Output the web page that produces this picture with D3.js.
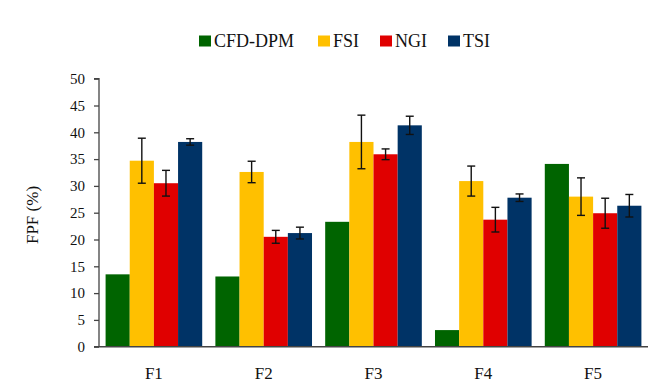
<!DOCTYPE html>
<html>
<head>
<meta charset="utf-8">
<script src="https://cdn.jsdelivr.net/npm/d3@7"></script>
<style>
  body { margin: 0; background: #fff; }
  text { font-family: "Liberation Serif", "DejaVu Serif", serif; fill: #111; }
</style>
</head>
<body>
<svg id="chart" width="654" height="390"></svg>
<script>
// formulations and series
var categories = ['F1', 'F2', 'F3', 'F4', 'F5'];
var seriesNames = ['CFD-DPM', 'FSI', 'NGI', 'TSI'];
var seriesColors = ['#006400', '#ffc000', '#e00000', '#003366'];

// FPF values (%)
var cfdValues = [13.5, 13.1, 23.3, 3.1, 34.1];
var fsiValues = [34.7, 32.6, 38.2, 30.9, 28.0];
var ngiValues = [30.5, 20.5, 35.9, 23.7, 24.9];
var tsiValues = [38.2, 21.2, 41.3, 27.8, 26.3];

// error bar half-widths (null = no error bar)
var cfdErrors = [null, null, null, null, null];
var fsiErrors = [4.2, 2.0, 5.0, 2.8, 3.5];
var ngiErrors = [2.4, 1.2, 1.0, 2.3, 2.8];
var tsiErrors = [0.6, 1.1, 1.7, 0.7, 2.1];

var yTicks = d3.range(0, 55, 5);

var seriesValues = [cfdValues, fsiValues, ngiValues, tsiValues];
var seriesErrors = [cfdErrors, fsiErrors, ngiErrors, tsiErrors];

var svg = d3.select('#chart');
var plotLeft = 99, plotRight = 648, plotTop = 78.7, plotBottom = 346.7;

var xScale = d3.scaleBand()
  .domain(categories)
  .range([plotLeft, plotRight])
  .paddingInner(0.12)
  .paddingOuter(0.06);

var xInner = d3.scaleBand()
  .domain(seriesNames)
  .range([0, xScale.bandwidth()]);

var yScale = d3.scaleLinear()
  .domain([0, 50])
  .range([plotBottom, plotTop]);

// build rows for drawing
var rows = [];
categories.forEach(function (cat, i) {
  seriesNames.forEach(function (name, j) {
    rows.push({
      cat: cat,
      series: name,
      color: seriesColors[j],
      value: seriesValues[j][i],
      err: seriesErrors[j][i]
    });
  });
});

var barsG = svg.append('g');
barsG.selectAll('rect').data(rows)
  .enter().append('rect')
    .attr('x', function (d) { return xScale(d.cat) + xInner(d.series); })
    .attr('y', function (d) { return yScale(d.value); })
    .attr('width', xInner.bandwidth())
    .attr('height', function (d) { return yScale(0) - yScale(d.value); })
    .attr('fill', function (d) { return d.color; });

// error bars
var errRows = rows.filter(function (d) { return d.err != null; });
var errG = svg.append('g')
  .attr('stroke', '#111')
  .attr('stroke-width', 1.4);
errRows.forEach(function (d) {
  var cx = xScale(d.cat) + xInner(d.series) + xInner.bandwidth() / 2;
  var y1 = yScale(d.value + d.err), y0 = yScale(d.value - d.err);
  errG.append('line').attr('x1', cx).attr('x2', cx).attr('y1', y1).attr('y2', y0);
  errG.append('line').attr('x1', cx - 4).attr('x2', cx + 4).attr('y1', y1).attr('y2', y1);
  errG.append('line').attr('x1', cx - 4).attr('x2', cx + 4).attr('y1', y0).attr('y2', y0);
});

// y axis
var yAxis = d3.axisLeft(yScale)
  .tickValues(yTicks)
  .tickSize(5)
  .tickPadding(9);
var yAxisG = svg.append('g')
  .attr('transform', 'translate(' + plotLeft + ',0)')
  .call(yAxis);
yAxisG.select('.domain').attr('stroke', '#444').attr('stroke-width', 1.3)
  .attr('d', 'M-5,' + plotTop + 'H0V' + plotBottom);
yAxisG.selectAll('.tick line').attr('stroke', '#444').attr('stroke-width', 1.3);
yAxisG.selectAll('.tick text')
  .style('font-family', '"Liberation Serif", serif')
  .style('font-size', '15px')
  .attr('fill', '#222');

// x axis
var xAxis = d3.axisBottom(xScale).tickSize(0).tickPadding(20);
var xAxisG = svg.append('g')
  .attr('transform', 'translate(0,' + plotBottom + ')')
  .call(xAxis);
xAxisG.select('.domain').attr('stroke', '#444').attr('stroke-width', 1.6)
  .attr('d', 'M' + (plotLeft - 5) + ',0H' + plotRight);
xAxisG.selectAll('.tick text')
  .style('font-family', '"Liberation Serif", serif')
  .style('font-size', '17px')
  .attr('fill', '#222');

// y axis title
svg.append('text')
  .attr('transform', 'translate(38,215) rotate(-90)')
  .attr('text-anchor', 'middle')
  .style('font-size', '17px')
  .text('FPF (%)');

// legend
var legendX = [199, 318, 380, 448];
var legend = svg.append('g');
seriesNames.forEach(function (name, i) {
  legend.append('rect')
    .attr('x', legendX[i]).attr('y', 35.5)
    .attr('width', 12).attr('height', 11)
    .attr('fill', seriesColors[i]);
  legend.append('text')
    .attr('x', legendX[i] + 15).attr('y', 47)
    .style('font-size', '18px')
    .text(name);
});
</script>
</body>
</html>
